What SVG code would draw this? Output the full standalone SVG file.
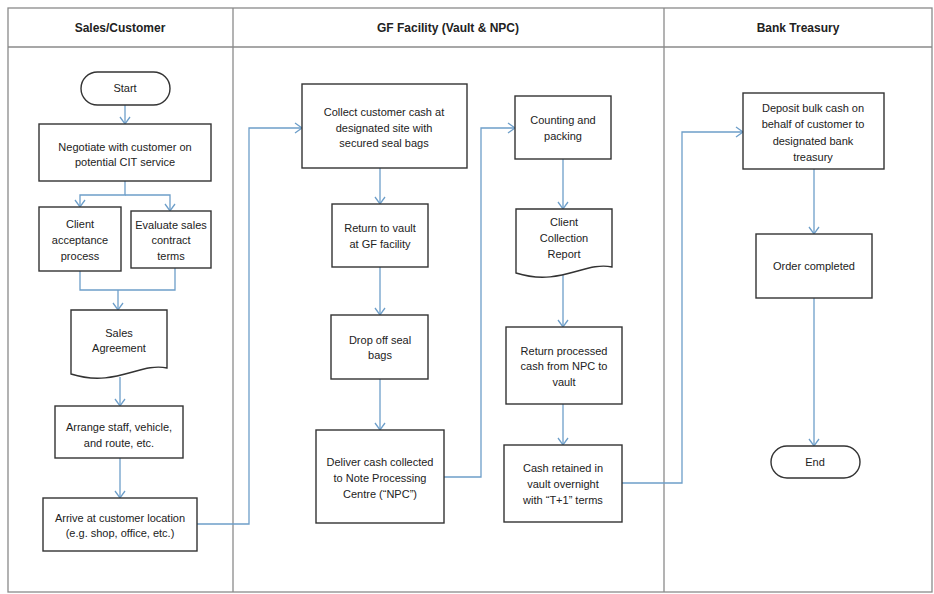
<svg xmlns="http://www.w3.org/2000/svg" width="934" height="594" viewBox="0 0 934 594">
<style>
.lane{fill:none;stroke:#8a8a8a;stroke-width:1.3}
.box{fill:#fff;stroke:#333;stroke-width:1.4}
.t{font-family:"Liberation Sans",Arial,sans-serif;font-size:11px;fill:#222;text-anchor:middle}
.h{font-family:"Liberation Sans",Arial,sans-serif;font-size:12px;font-weight:bold;fill:#222;text-anchor:middle}
.c{fill:none;stroke:#6d9ec9;stroke-width:1.3}
.a{marker-end:url(#arr)}
</style>
<defs>
<marker id="arr" markerUnits="userSpaceOnUse" markerWidth="12" markerHeight="12" viewBox="0 0 12 12" refX="10" refY="6" orient="auto">
<path d="M3,1 L10,6 L3,11" fill="none" stroke="#6d9ec9" stroke-width="1.3"/>
</marker>
</defs>
<rect width="934" height="594" fill="#fff"/>
<g id="lanes">
<rect class="lane" x="8" y="8" width="924" height="584"/>
<line class="lane" x1="8" y1="47" x2="932" y2="47"/>
<line class="lane" x1="233" y1="8" x2="233" y2="592"/>
<line class="lane" x1="664" y1="8" x2="664" y2="592"/>
<text class="h" x="120" y="32">Sales/Customer</text>
<text class="h" x="448" y="32">GF Facility (Vault &amp; NPC)</text>
<text class="h" x="798" y="32">Bank Treasury</text>
</g>
<g id="connectors">
<path class="c a" d="M125 105 V124"/>
<path class="c a" d="M125 181 V195 H80 V207"/>
<path class="c a" d="M125 195 H170 V211"/>
<path class="c" d="M80 271 V290 H175 V268"/>
<path class="c a" d="M118 290 V310"/>
<path class="c a" d="M120 377 V406"/>
<path class="c a" d="M120 458 V498"/>
<path class="c a" d="M197 524 H249 V128 H302"/>
<path class="c a" d="M380 168 V204"/>
<path class="c a" d="M380 267 V315"/>
<path class="c a" d="M380 379 V430"/>
<path class="c a" d="M444 477 H481 V128 H515"/>
<path class="c a" d="M563 159 V209"/>
<path class="c a" d="M563 275 V327"/>
<path class="c a" d="M563 404 V445"/>
<path class="c a" d="M622 483 H682 V132 H743"/>
<path class="c a" d="M814 169 V234"/>
<path class="c a" d="M814 298 V446"/>
</g>
<g id="start">
<rect class="box" x="81" y="72" width="89" height="33" rx="16.5"/>
<text class="t" x="125" y="92">Start</text>
</g>
<g id="negotiate">
<rect class="box" x="39" y="124" width="172" height="57"/>
<text class="t" x="125" y="151">Negotiate with customer on</text>
<text class="t" x="125" y="166">potential CIT service</text>
</g>
<g id="client-acceptance">
<rect class="box" x="39" y="207" width="82" height="64"/>
<text class="t" x="80" y="228">Client</text>
<text class="t" x="80" y="244">acceptance</text>
<text class="t" x="80" y="260">process</text>
</g>
<g id="evaluate">
<rect class="box" x="131" y="211" width="80" height="57"/>
<text class="t" x="171" y="229">Evaluate sales</text>
<text class="t" x="171" y="244">contract</text>
<text class="t" x="171" y="260">terms</text>
</g>
<g id="sales-agreement">
<path class="box" d="M71 310 H167 V368 C140 362 115 388 71 374 Z"/>
<text class="t" x="119" y="337">Sales</text>
<text class="t" x="119" y="352">Agreement</text>
</g>
<g id="arrange">
<rect class="box" x="55" y="406" width="128" height="52"/>
<text class="t" x="119" y="431">Arrange staff, vehicle,</text>
<text class="t" x="119" y="447">and route, etc.</text>
</g>
<g id="arrive">
<rect class="box" x="43" y="498" width="154" height="53"/>
<text class="t" x="120" y="522">Arrive at customer location</text>
<text class="t" x="120" y="537">(e.g. shop, office, etc.)</text>
</g>
<g id="collect">
<rect class="box" x="302" y="84" width="165" height="84"/>
<text class="t" x="384" y="116">Collect customer cash at</text>
<text class="t" x="384" y="132">designated site with</text>
<text class="t" x="384" y="147">secured seal bags</text>
</g>
<g id="return-vault">
<rect class="box" x="332" y="204" width="96" height="63"/>
<text class="t" x="380" y="232">Return to vault</text>
<text class="t" x="380" y="248">at GF facility</text>
</g>
<g id="drop-off">
<rect class="box" x="331" y="315" width="97" height="64"/>
<text class="t" x="380" y="344">Drop off seal</text>
<text class="t" x="380" y="359">bags</text>
</g>
<g id="deliver">
<rect class="box" x="316" y="430" width="128" height="93"/>
<text class="t" x="380" y="466">Deliver cash collected</text>
<text class="t" x="380" y="482">to Note Processing</text>
<text class="t" x="380" y="498">Centre (“NPC”)</text>
</g>
<g id="counting">
<rect class="box" x="515" y="96" width="96" height="63"/>
<text class="t" x="563" y="124">Counting and</text>
<text class="t" x="563" y="140">packing</text>
</g>
<g id="client-collection-report">
<path class="box" d="M516 209 H612 V267 C585 261 560 287 516 273 Z"/>
<text class="t" x="564" y="226">Client</text>
<text class="t" x="564" y="242">Collection</text>
<text class="t" x="564" y="258">Report</text>
</g>
<g id="return-processed">
<rect class="box" x="506" y="327" width="116" height="77"/>
<text class="t" x="564" y="355">Return processed</text>
<text class="t" x="564" y="370">cash from NPC to</text>
<text class="t" x="564" y="386">vault</text>
</g>
<g id="cash-retained">
<rect class="box" x="504" y="445" width="118" height="77"/>
<text class="t" x="563" y="472">Cash retained in</text>
<text class="t" x="563" y="488">vault overnight</text>
<text class="t" x="563" y="504">with “T+1” terms</text>
</g>
<g id="deposit">
<rect class="box" x="743" y="93" width="141" height="76"/>
<text class="t" x="813" y="112">Deposit bulk cash on</text>
<text class="t" x="813" y="128">behalf of customer to</text>
<text class="t" x="813" y="145">designated bank</text>
<text class="t" x="813" y="161">treasury</text>
</g>
<g id="order-completed">
<rect class="box" x="756" y="234" width="116" height="64"/>
<text class="t" x="814" y="270">Order completed</text>
</g>
<g id="end">
<rect class="box" x="771" y="446" width="89" height="32" rx="16"/>
<text class="t" x="815" y="466">End</text>
</g>
</svg>
